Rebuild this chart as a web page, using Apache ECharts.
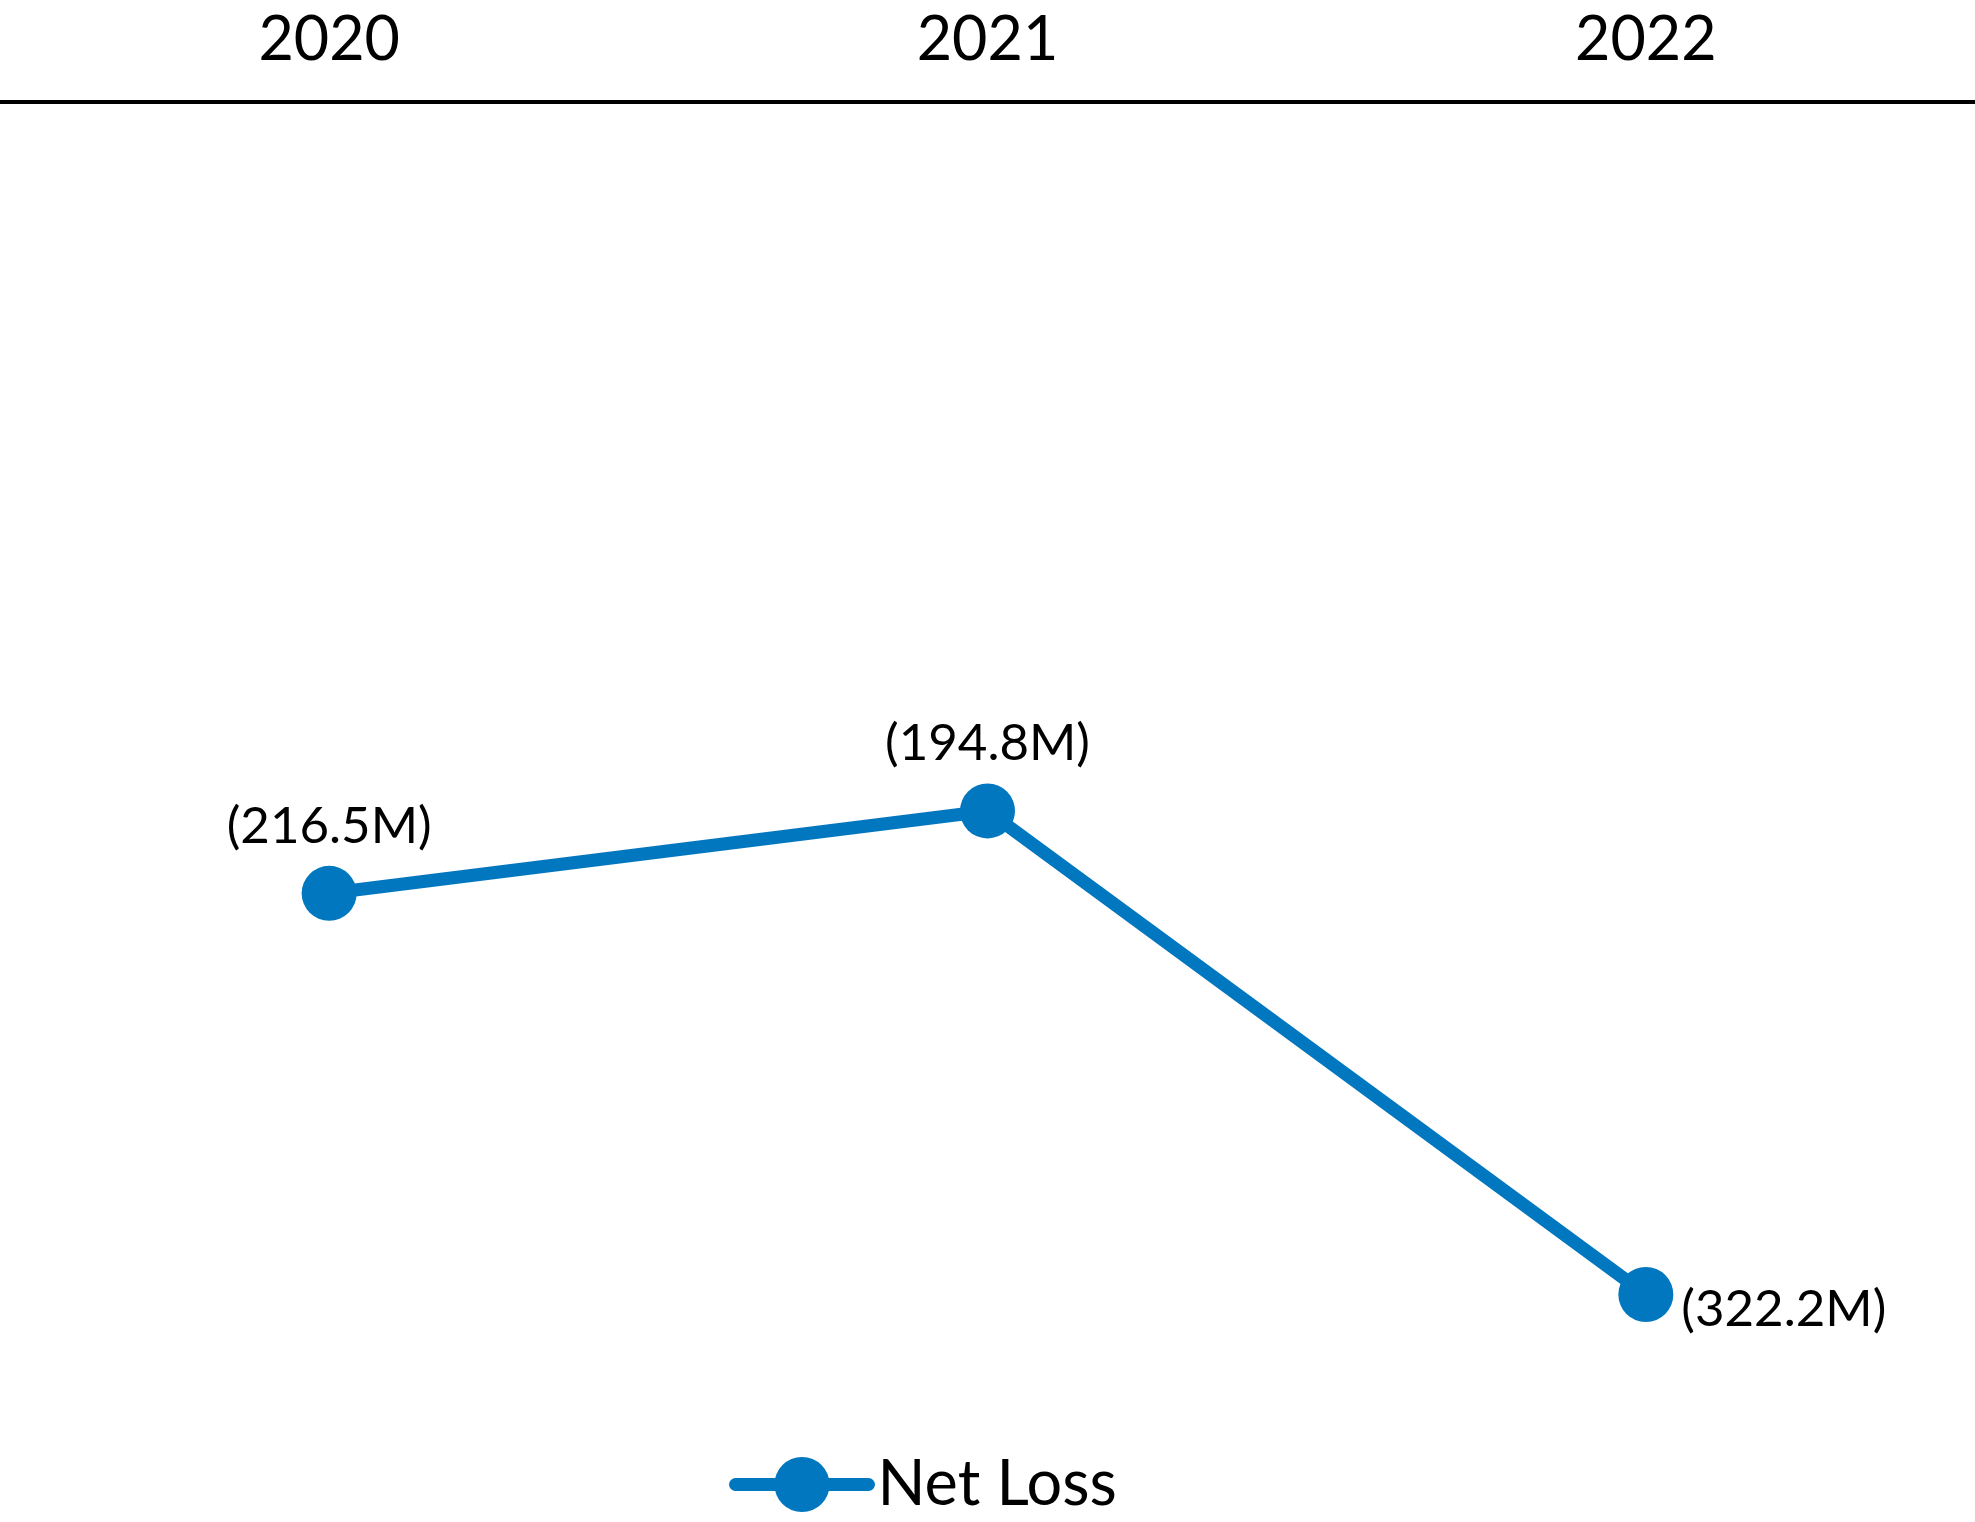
<!DOCTYPE html>
<html>
<head>
<meta charset="utf-8">
<script src="https://cdn.jsdelivr.net/npm/echarts@6/dist/echarts.min.js"></script>
<style>
html,body{margin:0;padding:0;background:#fff;}
#chart{width:1975px;height:1522px;}
</style>
</head>
<body>
<div id="chart"></div>
<script>
const categories = ['2020', '2021', '2022'];
const netLoss = [-216.5, -194.8, -322.2];
const seriesName = 'Net Loss';

const FONT = 'Lato';
const BLUE = '#0077BF';

const chart = echarts.init(document.getElementById('chart'), null, {renderer: 'canvas'});
chart.setOption({
  backgroundColor: '#ffffff',
  animation: false,
  grid: {left: 0, right: 0, top: 102, bottom: 122, containLabel: false},
  xAxis: {
    type: 'category',
    position: 'top',
    data: categories,
    boundaryGap: true,
    axisLine: {show: true, lineStyle: {color: '#000', width: 4}},
    axisTick: {show: false},
    axisLabel: {color: '#000', fontFamily: FONT, fontSize: 61, margin: 31}
  },
  yAxis: {
    type: 'value',
    min: -350,
    max: -8,
    show: false,
    splitLine: {show: false}
  },
  legend: {
    left: 724,
    top: 1448,
    itemWidth: 133,
    itemHeight: 69,
    itemGap: 0,
    textStyle: {color: '#000', fontFamily: FONT, fontSize: 63, padding: [0, 0, 0, 4]},
    lineStyle: {width: 13, cap: 'round'},
    data: [seriesName]
  },
  series: [{
    name: seriesName,
    type: 'line',
    symbol: 'circle',
    symbolSize: 55,
    itemStyle: {color: BLUE},
    lineStyle: {color: BLUE, width: 13, cap: 'round'},
    label: {
      show: true,
      fontFamily: FONT,
      fontSize: 51,
      color: '#000',
      formatter: p => '(' + Math.abs(p.value).toFixed(1) + 'M)'
    },
    data: netLoss.map((v, i) => ({
      value: v,
      label: i === 2 ? {position: 'right', distance: 8, offset: [0, 15]} : {position: 'top', distance: 14}
    }))
  }]
});
</script>
</body>
</html>
